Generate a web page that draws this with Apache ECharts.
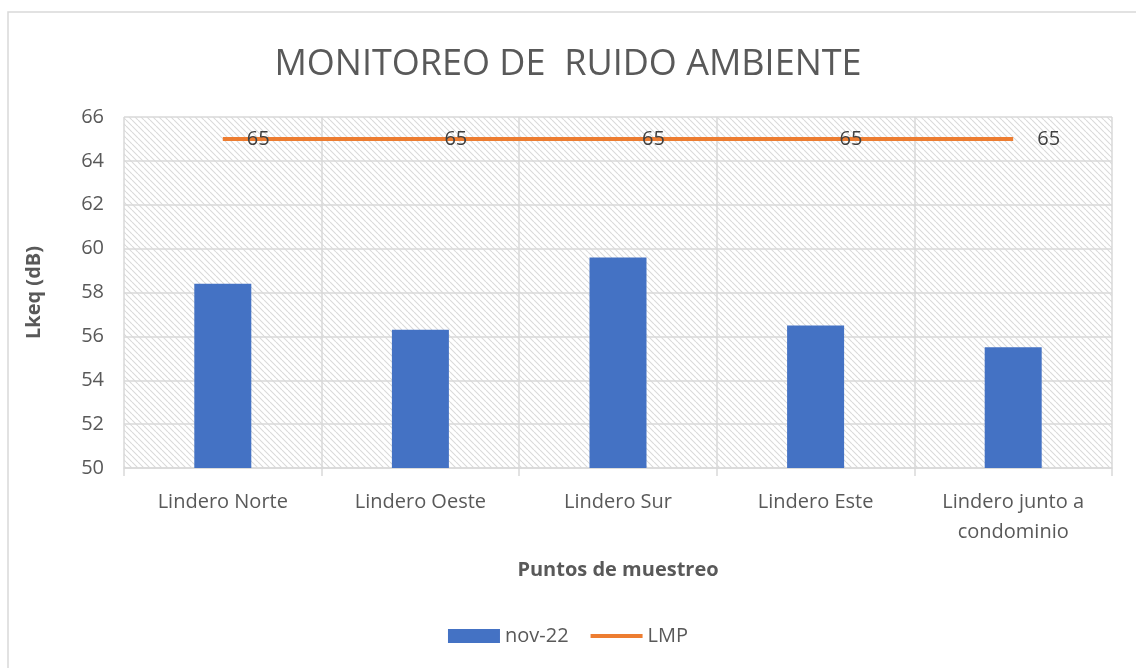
<!DOCTYPE html>
<html>
<head>
<meta charset="utf-8">
<script src="https://cdn.jsdelivr.net/npm/echarts@6/dist/echarts.min.js"></script>
<style>
  html, body { margin: 0; padding: 0; background: #fff; }
  #chart { width: 1136px; height: 668px; }
</style>
</head>
<body>
<div id="chart"></div>
<script>
const categories = ['Lindero Norte', 'Lindero Oeste', 'Lindero Sur', 'Lindero Este', 'Lindero junto a\ncondominio'];
const nov22 = [58.4, 56.3, 59.6, 56.5, 55.5];
const lmp = [65, 65, 65, 65, 65];

// patron de rayas diagonales del fondo
function hatch() {
  let c = document.createElement('canvas');
  c.width = 6;
  c.height = 6;
  let ctx = c.getContext('2d');
  ctx.fillStyle = '#ffffff';
  ctx.fillRect(0, 0, 6, 6);
  ctx.strokeStyle = '#dadada';
  ctx.lineWidth = 1.1;
  ctx.beginPath();
  for (let k = -6; k <= 12; k += 6) {
    ctx.moveTo(k, 0);
    ctx.lineTo(k + 6, 6);
  }
  ctx.stroke();
  return c;
}

const font = '"Open Sans", "Noto Sans", sans-serif';
let myChart = echarts.init(document.getElementById('chart'));
myChart.setOption({
  animation: false,
  title: {
    text: 'MONITOREO DE  RUIDO AMBIENTE',
    left: 'center',
    top: 42,
    textStyle: { fontFamily: font, fontSize: 36, fontWeight: 'normal', color: '#595959' }
  },
  graphic: [{
    type: 'rect',
    shape: { x: 8, y: 12, width: 1140, height: 670 },
    style: { fill: 'none', stroke: '#d9d9d9', lineWidth: 1.5 },
    silent: true
  }],
  grid: {
    left: 124, right: 24, top: 117, bottom: 200,
    show: true,
    borderWidth: 0,
    backgroundColor: { image: hatch(), repeat: 'repeat' }
  },
  legend: {
    bottom: 17,
    left: 'center',
    itemGap: 22,
    itemWidth: 52,
    itemHeight: 14,
    textStyle: { fontFamily: font, fontSize: 20, color: '#595959' },
    data: [
      { name: 'nov-22', icon: 'rect' },
      { name: 'LMP', icon: 'path://M0,6 L52,6 L52,10 L0,10 Z' }
    ]
  },
  xAxis: {
    type: 'category',
    data: categories,
    name: 'Puntos de muestreo',
    nameLocation: 'middle',
    nameGap: 92,
    nameTextStyle: { fontFamily: font, fontSize: 20, fontWeight: 'bold', color: '#595959' },
    axisLine: { lineStyle: { color: '#d9d9d9', width: 1.5 } },
    axisTick: { show: true, length: 8, lineStyle: { color: '#d9d9d9', width: 1.5 } },
    splitLine: { show: true, lineStyle: { color: '#d9d9d9', width: 1.5 } },
    axisLabel: { fontFamily: font, fontSize: 20, color: '#595959', margin: 19, lineHeight: 30 }
  },
  yAxis: {
    type: 'value',
    min: 50,
    max: 66,
    interval: 2,
    name: 'Lkeq (dB)',
    nameLocation: 'middle',
    nameGap: 80,
    nameTextStyle: { fontFamily: font, fontSize: 20, fontWeight: 'bold', color: '#595959' },
    axisLine: { show: false },
    axisTick: { show: false },
    splitLine: { lineStyle: { color: '#d9d9d9', width: 1.5 } },
    axisLabel: { fontFamily: font, fontSize: 20, color: '#595959', margin: 20 }
  },
  series: [
    {
      name: 'nov-22',
      type: 'bar',
      data: nov22,
      barWidth: 57,
      itemStyle: { color: '#4472C4' }
    },
    {
      name: 'LMP',
      type: 'line',
      data: lmp,
      symbol: 'circle',
      symbolSize: 0,
      showSymbol: true,
      lineStyle: { color: '#ED7D31', width: 4 },
      itemStyle: { color: '#ED7D31' },
      label: {
        show: true,
        position: 'right',
        distance: 24,
        offset: [0, 5],
        fontFamily: font,
        fontSize: 20,
        color: '#404040'
      },
      labelLayout: { hideOverlap: false },
      z: 3
    }
  ]
});
</script>
</body>
</html>
